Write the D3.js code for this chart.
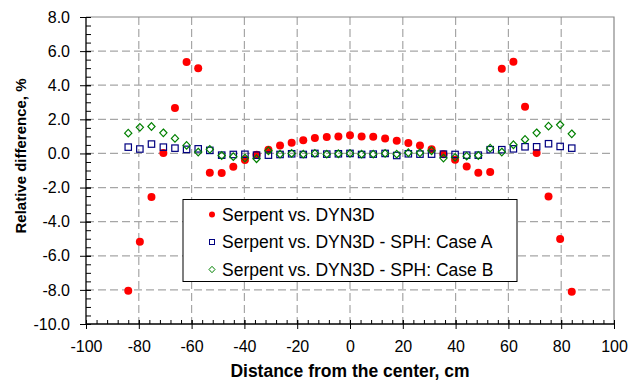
<!DOCTYPE html>
<html>
<head>
<meta charset="utf-8">
<script src="https://cdn.jsdelivr.net/npm/d3@7"></script>
<style>
  body { margin: 0; background: #fff; }
  text { font-family: "Liberation Sans", Arial, sans-serif; }
</style>
</head>
<body>
<div id="chart"></div>
<script>
const xPos = [-84.0, -79.6, -75.2, -70.7, -66.3, -61.9, -57.5, -53.1, -48.6, -44.2,
  -39.8, -35.4, -30.9, -26.5, -22.1, -17.7, -13.3, -8.8, -4.4, 0,
  4.4, 8.8, 13.3, 17.7, 22.1, 26.5, 30.9, 35.4, 39.8, 44.2,
  48.6, 53.1, 57.5, 61.9, 66.3, 70.7, 75.2, 79.6, 84.0];

const serpentDyn = [-8.05, -5.18, -2.55, 0.02, 2.66, 5.36, 5.0, -1.13, -1.14, -0.78,
  -0.39, -0.08, 0.22, 0.47, 0.63, 0.78, 0.90, 0.96, 1.0, 1.06,
  1.0, 0.98, 0.88, 0.74, 0.61, 0.47, 0.24, -0.04, -0.37, -0.76,
  -1.13, -1.09, 4.96, 5.37, 2.74, 0.02, -2.52, -5.02, -8.11];

const sphCaseA = [0.37, 0.26, 0.55, 0.37, 0.31, 0.24, 0.27, 0.18, -0.10, -0.06,
  -0.05, -0.10, -0.10, -0.06, -0.02, -0.06, 0.0, -0.04, -0.02, 0.0,
  -0.06, -0.04, 0.0, -0.12, -0.02, -0.04, -0.04, -0.04, -0.06, -0.10,
  -0.10, 0.22, 0.22, 0.27, 0.39, 0.39, 0.57, 0.41, 0.31];

const sphCaseB = [1.19, 1.53, 1.58, 1.21, 0.88, 0.47, 0.08, 0.24, -0.12, -0.19,
  -0.27, -0.31, 0.16, -0.04, 0.0, -0.04, 0.0, -0.04, -0.02, 0.0,
  -0.04, -0.04, 0.0, -0.04, 0.04, 0.04, 0.16, -0.27, -0.23, -0.16,
  -0.12, 0.31, 0.08, 0.51, 0.82, 1.21, 1.60, 1.68, 1.15];

const seriesNames = ["Serpent vs. DYN3D", "Serpent vs. DYN3D - SPH: Case A", "Serpent vs. DYN3D - SPH: Case B"];
const xTicks = [-100, -80, -60, -40, -20, 0, 20, 40, 60, 80, 100];
const yTicks = [-10, -8, -6, -4, -2, 0, 2, 4, 6, 8];

const width = 629, height = 382;
const margin = { top: 17, right: 15, bottom: 58, left: 86 };

const svg = d3.select("#chart")
  .append("svg")
  .attr("width", width)
  .attr("height", height);

const xScale = d3.scaleLinear().domain([-100, 100]).range([margin.left, width - margin.right]);
const yScale = d3.scaleLinear().domain([-10, 8]).range([height - margin.bottom, margin.top]);

const x0 = xScale(-100), x1 = xScale(100), y0 = yScale(-10), y1 = yScale(8);

// grid
const grid = svg.append("g")
  .attr("stroke", "#a6a6a6")
  .attr("stroke-width", 1.2)
  .attr("stroke-dasharray", "8,4");
grid.selectAll(".vgrid")
  .data(xTicks.filter(d => d > -100 && d < 100))
  .enter().append("line")
  .attr("x1", d => xScale(d)).attr("x2", d => xScale(d))
  .attr("y1", y1).attr("y2", y0);
grid.selectAll(".hgrid")
  .data(yTicks.filter(d => d > -10 && d < 8))
  .enter().append("line")
  .attr("x1", x0).attr("x2", x1)
  .attr("y1", d => yScale(d)).attr("y2", d => yScale(d));

// plot frame (top + right)
svg.append("path")
  .attr("d", `M${x0},${y1}H${x1}V${y0}`)
  .attr("fill", "none")
  .attr("stroke", "#888")
  .attr("stroke-width", 1.2);

// axes
const xMinor = svg.append("g").attr("transform", `translate(0, ${y0})`);
xMinor.call(d3.axisBottom(xScale).tickValues(d3.range(-100, 101, 4)).tickSize(0).tickFormat(""));
xMinor.selectAll(".tick line").attr("y1", -4).attr("y2", 0).attr("stroke", "#000");
xMinor.select(".domain").remove();

const xMajor = svg.append("g").attr("transform", `translate(0, ${y0})`);
xMajor.call(d3.axisBottom(xScale).tickValues(xTicks).tickSize(5).tickPadding(12).tickFormat(d => String(d)));
xMajor.selectAll(".tick line").attr("y1", -4).attr("y2", 5);
xMajor.select(".domain").attr("d", `M${x0},0H${x1}`).attr("stroke-width", 1.3);
xMajor.selectAll("text").style("font-size", "16px").attr("fill", "#000");

const yMinor = svg.append("g").attr("transform", `translate(${x0}, 0)`);
yMinor.call(d3.axisLeft(yScale).tickValues(d3.range(-10, 8.01, 0.5)).tickSize(0).tickFormat(""));
yMinor.selectAll(".tick line").attr("x1", 0).attr("x2", 5).attr("stroke", "#000");
yMinor.select(".domain").remove();

const yMajor = svg.append("g").attr("transform", `translate(${x0}, 0)`);
yMajor.call(d3.axisLeft(yScale).tickValues(yTicks).tickSize(6).tickPadding(10)
  .tickFormat(d => d.toFixed(1)));
yMajor.selectAll(".tick line").attr("x1", -6).attr("x2", 5);
yMajor.select(".domain").attr("d", `M0,${y1}V${y0}`).attr("stroke-width", 1.3);
yMajor.selectAll("text").style("font-size", "16px").attr("fill", "#000");

// axis titles
svg.append("text")
  .attr("x", (x0 + x1) / 2)
  .attr("y", 377)
  .attr("text-anchor", "middle")
  .style("font-size", "17.5px")
  .style("font-weight", "bold")
  .text("Distance from the center, cm");

svg.append("text")
  .attr("transform", `translate(26, 156) rotate(-90)`)
  .attr("text-anchor", "middle")
  .style("font-size", "15px")
  .style("font-weight", "bold")
  .text("Relative difference, %");

function diamondPath(cx, cy, w, h) {
  return `M${cx},${cy - h}L${cx + w},${cy}L${cx},${cy + h}L${cx - w},${cy}Z`;
}

// series
svg.append("g").selectAll("circle")
  .data(xPos.map((x, i) => ({ x, y: serpentDyn[i] })))
  .enter().append("circle")
  .attr("cx", d => xScale(d.x))
  .attr("cy", d => yScale(d.y))
  .attr("r", 4)
  .attr("fill", "#ff0000");

svg.append("g").selectAll("rect")
  .data(xPos.map((x, i) => ({ x, y: sphCaseA[i] })))
  .enter().append("rect")
  .attr("x", d => xScale(d.x) - 3.2)
  .attr("y", d => yScale(d.y) - 3.2)
  .attr("width", 6.4)
  .attr("height", 6.4)
  .attr("fill", "none")
  .attr("stroke", "#000080")
  .attr("stroke-width", 1.2);

svg.append("g").selectAll("path")
  .data(xPos.map((x, i) => ({ x, y: sphCaseB[i] })))
  .enter().append("path")
  .attr("d", d => diamondPath(xScale(d.x), yScale(d.y), 3.6, 3.8))
  .attr("fill", "none")
  .attr("stroke", "#008000")
  .attr("stroke-width", 1.2);

// legend
const legend = svg.append("g");
legend.append("rect")
  .attr("x", 183).attr("y", 199.5)
  .attr("width", 334).attr("height", 82)
  .attr("fill", "#fff")
  .attr("stroke", "#000")
  .attr("stroke-width", 1);

const legendY = [214.5, 242, 269.5];
const mx = 212;
legend.append("circle").attr("cx", mx).attr("cy", legendY[0]).attr("r", 3).attr("fill", "#ff0000");
legend.append("rect")
  .attr("x", mx - 2.5).attr("y", legendY[1] - 2.5).attr("width", 5).attr("height", 5)
  .attr("fill", "none").attr("stroke", "#000080").attr("stroke-width", 1);
legend.append("path")
  .attr("d", diamondPath(mx, legendY[2], 3, 3.2))
  .attr("fill", "none").attr("stroke", "#008000").attr("stroke-width", 1);

legend.selectAll(".legend-label")
  .data(seriesNames)
  .enter().append("text")
  .attr("class", "legend-label")
  .attr("x", 222)
  .attr("y", (d, i) => legendY[i])
  .attr("dy", "0.36em")
  .style("font-size", "17.5px")
  .text(d => d);
</script>
</body>
</html>
